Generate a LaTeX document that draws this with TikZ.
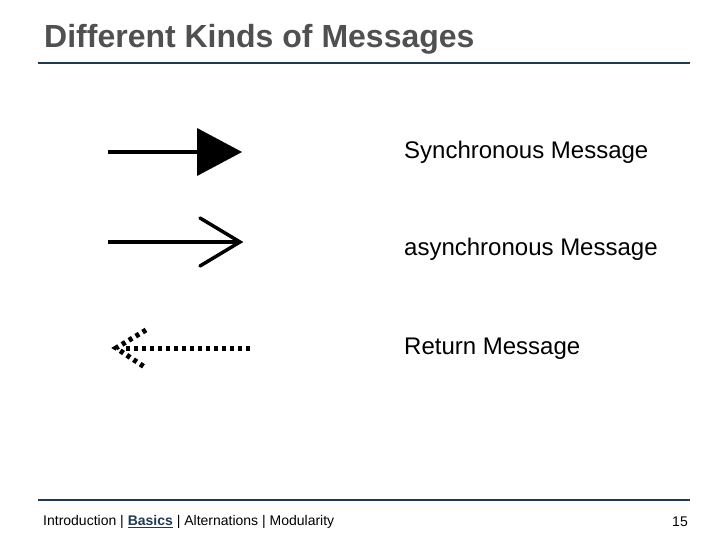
\documentclass[tikz,border=0pt]{standalone}
\usepackage{fontspec}
\setmainfont{Liberation Sans}
\begin{document}
\begin{tikzpicture}[x=1pt,y=-1pt,
  lbl/.style={anchor=west,font=\fontsize{24}{28}\selectfont,inner sep=0pt},
  rule/.style={draw=rulecol,line width=2pt}]
\definecolor{rulecol}{HTML}{1F3A55}
\definecolor{titlecol}{HTML}{505050}
\useasboundingbox (0,0) rectangle (720,540);
\node[anchor=west,font=\fontsize{32}{38}\selectfont\bfseries,text=titlecol,inner sep=0pt] (title) at (44,39) {Different Kinds of Messages};
\coordinate (t1) at (38,63); \coordinate (t2) at (690,63);
\draw[rule] (t1) -- (t2);
\coordinate (b1) at (38,500); \coordinate (b2) at (690,500);
\draw[rule] (b1) -- (b2);
% synchronous
\coordinate (s1) at (108,152); \coordinate (s2) at (199,152);
\draw[line width=4.5pt] (s1) -- (s2);
\fill (197,128) -- (242,152) -- (197,176) -- cycle;
% asynchronous
\coordinate (a1) at (108,242); \coordinate (a2) at (238,242);
\draw[line width=4.5pt] (a1) -- (a2);
\draw[line width=3.5pt,line cap=round,line join=miter] (200,218) -- (240,242) -- (200,266);
% return
\coordinate (r1) at (250,348); \coordinate (r2) at (124,348);
\draw[line width=5pt,dash pattern=on 4pt off 4pt] (r1) -- (r2);
\draw[line width=5pt,dash pattern=on 4pt off 4pt] (146,330) -- (116,348) -- (146,368);
\node[lbl] (l1) at (404,152) {Synchronous Message};
\node[lbl] (l2) at (404,249) {asynchronous Message};
\node[lbl] (l3) at (404,349) {Return Message};
\node[anchor=west,font=\fontsize{14}{17}\selectfont,inner sep=0pt] (foot) at (43,522) {Introduction | \textcolor{rulecol}{\bfseries\underline{Basics}} | Alternations | Modularity};
\node[anchor=east,font=\fontsize{14}{17}\selectfont,inner sep=0pt] (pg) at (688,522) {15};
\end{tikzpicture}
\end{document}
